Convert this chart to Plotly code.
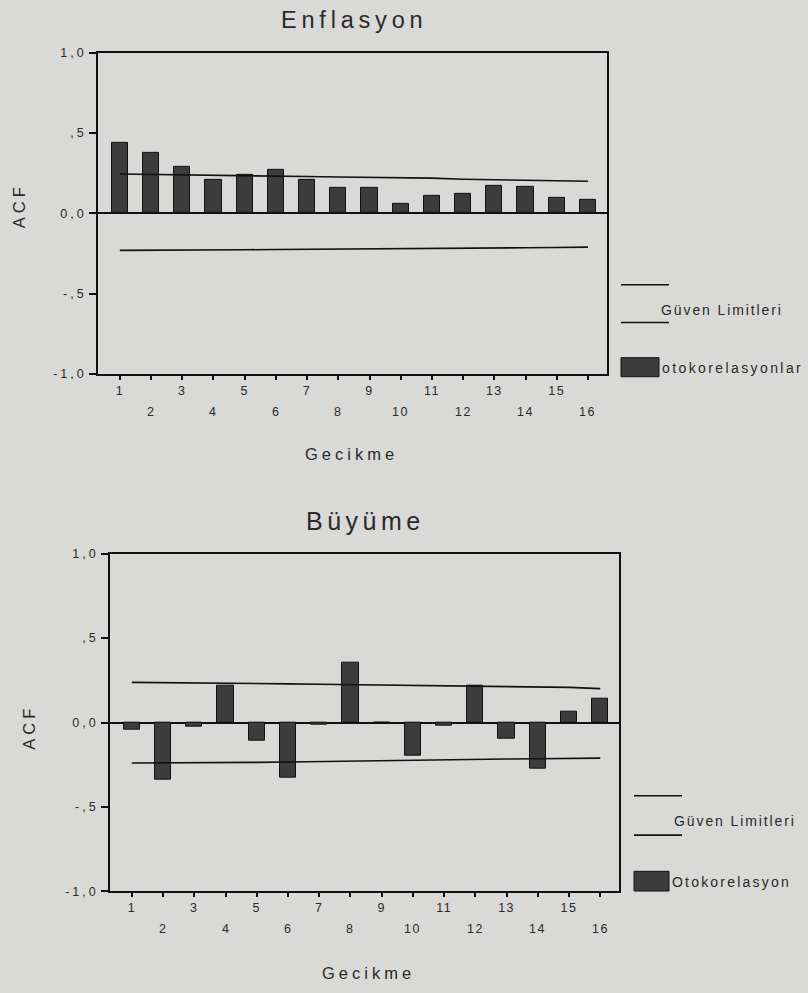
import plotly.graph_objects as go

lags = list(range(1, 17))

# Enflasyon ACF
enf_acf = [0.44, 0.376, 0.288, 0.21, 0.24, 0.27, 0.207, 0.157, 0.157, 0.061, 0.108, 0.123, 0.17, 0.168, 0.098, 0.082]
enf_upper = [0.245, 0.243, 0.240, 0.236, 0.234, 0.232, 0.229, 0.226, 0.224, 0.222, 0.219, 0.212, 0.210, 0.208, 0.205, 0.200]
enf_lower = [-0.231, -0.231, -0.229, -0.228, -0.227, -0.226, -0.225, -0.224, -0.223, -0.222, -0.222, -0.218, -0.216, -0.215, -0.213, -0.211]

# Büyüme ACF
buy_acf = [-0.043, -0.336, -0.025, 0.219, -0.107, -0.328, -0.014, 0.354, 0.0, -0.197, -0.021, 0.221, -0.094, -0.275, 0.0625, 0.139]
buy_upper = [0.238, 0.237, 0.234, 0.231, 0.230, 0.229, 0.227, 0.225, 0.223, 0.221, 0.218, 0.214, 0.213, 0.212, 0.208, 0.201]
buy_lower = [-0.240, -0.240, -0.238, -0.237, -0.236, -0.234, -0.231, -0.228, -0.225, -0.223, -0.220, -0.217, -0.216, -0.215, -0.213, -0.211]

y_tickvals = [-1, -0.5, 0, 0.5, 1]
y_ticktext = ["-1,0", "-,5", "0,0", ",5", "1,0"]
even_lags = [v for v in lags if v % 2 == 0]

W, H = 808, 993
BG = "#d9d9d7"
TXT = "#2a2a2a"
FONT = "Liberation Sans, Arial, sans-serif"


def sp(text, ls):
    return f'<span style="letter-spacing:{ls}px">{text}</span>'


x_odd_text = [sp(str(v), 1.5) if v % 2 == 1 else "" for v in lags]
y_text_sp = [sp(t, 3) for t in y_ticktext]


def px_x(p):
    return p / W


def px_y(p):
    return 1 - p / H


top_dom_x = [px_x(98), px_x(607)]
top_dom_y = [px_y(372), px_y(46.5)]
bot_dom_x = [px_x(110), px_x(619)]
bot_dom_y = [px_y(897), px_y(554.5)]

fig = go.Figure()


def add_panel(acf, up, lo, xa, ya):
    fig.add_trace(go.Bar(x=lags, y=acf, width=0.52, xaxis=xa, yaxis=ya,
                         marker=dict(color="#3c3c3c", line=dict(color="#111111", width=1)),
                         showlegend=False))
    for arr in (up, lo):
        fig.add_trace(go.Scatter(x=lags, y=arr, mode="lines", xaxis=xa, yaxis=ya,
                                 line=dict(color="#111111", width=1.6), showlegend=False))


add_panel(enf_acf, enf_upper, enf_lower, "x", "y")
add_panel(buy_acf, buy_upper, buy_lower, "x2", "y2")

xcommon = dict(range=[0.3, 16.61], tickvals=lags, ticktext=x_odd_text, ticks="outside", ticklen=4,
               tickwidth=1.5, tickcolor="#111", showline=True, linecolor="#111", linewidth=1.6,
               mirror=True, showgrid=False, zeroline=False,
               tickfont=dict(family=FONT, size=12.5, color=TXT), fixedrange=True)
ycommon = dict(range=[-1, 1], tickvals=y_tickvals, ticktext=y_text_sp, ticks="outside", ticklen=7,
               tickwidth=1.5, tickcolor="#111", showline=True, linecolor="#111", linewidth=1.6,
               mirror=True, showgrid=False, zeroline=True, zerolinecolor="#111", zerolinewidth=1.6,
               tickfont=dict(family=FONT, size=12.5, color=TXT), fixedrange=True)

fig.update_layout(
    width=W, height=H, margin=dict(l=0, r=0, t=0, b=0),
    paper_bgcolor=BG, plot_bgcolor=BG, bargap=0,
    xaxis=dict(domain=top_dom_x, anchor="y", **xcommon),
    yaxis=dict(domain=top_dom_y, anchor="x", **ycommon),
    xaxis2=dict(domain=bot_dom_x, anchor="y2", **{**xcommon, "range": [0.3, 16.6]}),
    yaxis2=dict(domain=bot_dom_y, anchor="x2", **ycommon),
    showlegend=False,
)

ann = []
# even tick labels (second row)
for xa, dom in (("x", top_dom_y), ("x2", bot_dom_y)):
    for v in even_lags:
        ann.append(dict(x=v, xref=xa, y=dom[0], yref="paper", yshift=-38, text=sp(str(v), 1.5),
                        showarrow=False, yanchor="middle", xanchor="center",
                        font=dict(family=FONT, size=12.5, color=TXT)))


def label(x, y, text, size, angle=0, xanchor="center"):
    ann.append(dict(x=px_x(x), y=px_y(y), xref="paper", yref="paper", text=text,
                    textangle=angle, showarrow=False, xanchor=xanchor, yanchor="middle",
                    font=dict(family=FONT, size=size, color=TXT)))


# titles
label(354, 13, sp("Enflasyon", 4.8), 23.5)
label(365, 521, sp("Büyüme", 4.5), 25)
# x axis titles
label(351.5, 453, sp("Gecikme", 4), 16.5)
label(368, 980, sp("Gecikme", 4), 16.5)
# y axis titles
label(19, 202, sp("ACF", 4), 16.5, angle=-90)
label(29, 730, sp("ACF", 4), 16.5, angle=-90)

# legends
shapes = []


def legend(x0, x1, yl1, yl2, ytext, box_y0, box_y1, box_x1, ybox_text, tx, label2, ls2):
    for yl in (yl1, yl2):
        shapes.append(dict(type="line", xref="paper", yref="paper", x0=px_x(x0), x1=px_x(x1),
                           y0=px_y(yl), y1=px_y(yl), line=dict(color="#111", width=1.6)))
    shapes.append(dict(type="rect", xref="paper", yref="paper", x0=px_x(x0), x1=px_x(box_x1),
                       y0=px_y(box_y1), y1=px_y(box_y0), fillcolor="#3c3c3c",
                       line=dict(color="#111", width=1)))
    label(tx, ytext, sp("Güven Limitleri", 1.9), 14, xanchor="left")
    label(box_x1 + 1, ybox_text, sp(label2, ls2), 14, xanchor="left")


legend(621, 669, 281.7, 320, 307.7, 355.7, 375, 659, 366.5, 659, "otokorelasyonlar", 2.4)
legend(634, 682, 800, 840, 826, 876.7, 896.7, 669, 888, 672, "Otokorelasyon", 2.2)

fig.update_layout(annotations=ann, shapes=shapes)
fig.write_html("out.html")
